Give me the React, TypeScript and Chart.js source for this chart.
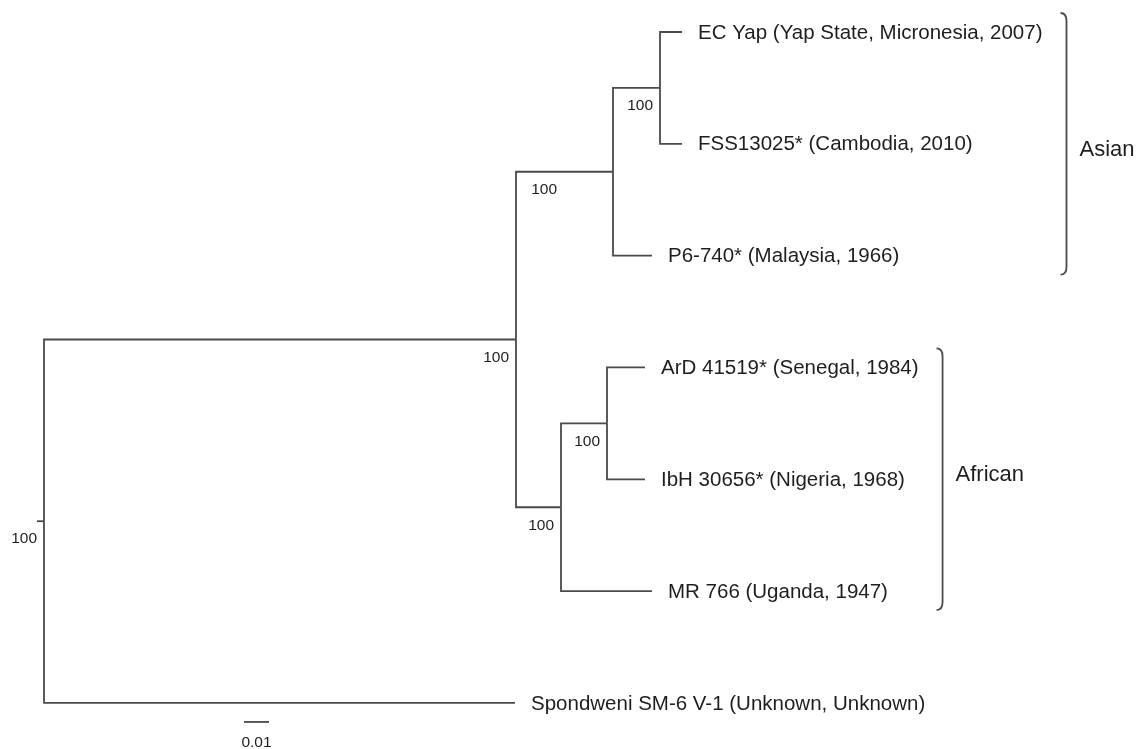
import React, { useEffect, useRef } from "react";
import { Chart, registerables } from "chart.js";

Chart.register(...registerables);

// ---- Tree data (branch depths in substitutions/site) ----
const leafLabels = [
  "EC Yap (Yap State, Micronesia, 2007)",
  "FSS13025* (Cambodia, 2010)",
  "P6-740* (Malaysia, 1966)",
  "ArD 41519* (Senegal, 1984)",
  "IbH 30656* (Nigeria, 1968)",
  "MR 766 (Uganda, 1947)",
  "Spondweni SM-6 V-1 (Unknown, Unknown)",
];
const leafDepths = [0.2552, 0.2552, 0.2432, 0.2404, 0.2404, 0.2432, 0.1884];
const leafParents = ["asianSub", "asianSub", "asian", "africanSub", "africanSub", "african", "root"];

const nodeIds = ["root", "zika", "asian", "asianSub", "african", "africanSub"];
const nodeDepths = [0, 0.1888, 0.2276, 0.2464, 0.2068, 0.2252];
const nodeParents = [null, "root", "zika", "asian", "zika", "african"];
const nodeSupport = [100, 100, 100, 100, 100, 100];
const rootStem = 0.0028;

const cladeNames = ["Asian", "African"];
const cladeFirstLeaf = [0, 3];
const cladeLastLeaf = [2, 5];

const scaleBarLength = 0.01;
const scaleBarLabel = "0.01";

// ---- derived geometry ----
function buildTree() {
  const nodeY: Record<string, number> = {};
  const childYs: Record<string, number[]> = {};
  nodeIds.forEach((id) => (childYs[id] = []));
  leafParents.forEach((p, i) => childYs[p].push(i));
  const resolve = (id: string): number => {
    if (nodeY[id] !== undefined) return nodeY[id];
    const ys = [...childYs[id]];
    nodeIds.forEach((cid, j) => {
      if (nodeParents[j] === id) ys.push(resolve(cid));
    });
    const y = (Math.min(...ys) + Math.max(...ys)) / 2;
    nodeY[id] = y;
    return y;
  };
  nodeIds.forEach((id) => resolve(id));
  const depthOf = (id: string) => nodeDepths[nodeIds.indexOf(id)];
  const edges: { x: number; y: number }[][] = [];
  leafLabels.forEach((_, i) => {
    const p = leafParents[i];
    edges.push([
      { x: depthOf(p), y: nodeY[p] },
      { x: depthOf(p), y: i },
      { x: leafDepths[i], y: i },
    ]);
  });
  nodeIds.forEach((id, j) => {
    const p = nodeParents[j];
    if (!p) {
      edges.push([
        { x: nodeDepths[j] - rootStem, y: nodeY[id] },
        { x: nodeDepths[j], y: nodeY[id] },
      ]);
      return;
    }
    edges.push([
      { x: depthOf(p), y: nodeY[p] },
      { x: depthOf(p), y: nodeY[id] },
      { x: nodeDepths[j], y: nodeY[id] },
    ]);
  });
  return { nodeY, edges };
}

const LINE = "#4a4a4a";
const TEXT = "#1e1e1e";
const FONT = "'Liberation Sans', Arial, Helvetica, sans-serif";

export default function App() {
  const ref = useRef<HTMLCanvasElement | null>(null);

  useEffect(() => {
    if (!ref.current) return;
    const { nodeY, edges } = buildTree();

    const supportShift: Record<string, number> = { asian: -49 };

    const annot = {
      id: "treeAnnotations",
      afterDatasetsDraw(chart: any) {
        const ctx = chart.ctx as CanvasRenderingContext2D;
        const xs = chart.scales.x;
        const ys = chart.scales.y;
        ctx.save();
        ctx.fillStyle = TEXT;
        // leaf labels
        ctx.font = `20.5px ${FONT}`;
        ctx.textAlign = "left";
        ctx.textBaseline = "middle";
        const leafEnds: number[] = [];
        leafLabels.forEach((lab, i) => {
          const px = xs.getPixelForValue(leafDepths[i]) + 16;
          const py = ys.getPixelForValue(i) + 1;
          ctx.fillText(lab, px, py);
          leafEnds.push(px + ctx.measureText(lab).width);
        });
        // bootstrap support
        ctx.font = `15.5px ${FONT}`;
        ctx.textAlign = "right";
        nodeIds.forEach((id, j) => {
          const px = xs.getPixelForValue(nodeDepths[j]) - 7 + (supportShift[id] || 0);
          const py = ys.getPixelForValue(nodeY[id]) + 18;
          ctx.fillText(String(nodeSupport[j]), px, py);
        });
        // clade brackets
        cladeNames.forEach((name, c) => {
          let maxEnd = 0;
          for (let i = cladeFirstLeaf[c]; i <= cladeLastLeaf[c]; i++) maxEnd = Math.max(maxEnd, leafEnds[i]);
          const bx = maxEnd + 24;
          const top = ys.getPixelForValue(cladeFirstLeaf[c]) - 19;
          const bot = ys.getPixelForValue(cladeLastLeaf[c]) + 19;
          ctx.strokeStyle = LINE;
          ctx.lineWidth = 1.8;
          ctx.beginPath();
          ctx.moveTo(bx - 6, top);
          ctx.quadraticCurveTo(bx, top, bx, top + 8);
          ctx.lineTo(bx, bot - 8);
          ctx.quadraticCurveTo(bx, bot, bx - 6, bot);
          ctx.stroke();
          ctx.font = `22px ${FONT}`;
          ctx.textAlign = "left";
          ctx.fillText(name, bx + 13, (top + bot) / 2 + (c === 0 ? 6 : -4));
        });
        // scale bar
        const sx0 = xs.getPixelForValue(0.08);
        const sx1 = xs.getPixelForValue(0.08 + scaleBarLength);
        const sy = ys.getPixelForValue(6.17);
        ctx.strokeStyle = LINE;
        ctx.lineWidth = 1.8;
        ctx.beginPath();
        ctx.moveTo(sx0, sy);
        ctx.lineTo(sx1, sy);
        ctx.stroke();
        ctx.font = `15.5px ${FONT}`;
        ctx.textAlign = "center";
        ctx.fillText(scaleBarLabel, (sx0 + sx1) / 2, sy + 21);
        ctx.restore();
      },
    };

    const chart = new Chart(ref.current, {
      type: "scatter",
      data: {
        datasets: edges.map((pts) => ({
          data: pts,
          showLine: true,
          borderColor: LINE,
          borderWidth: 1.8,
          pointRadius: 0,
          fill: false,
          tension: 0,
        })),
      },
      options: {
        animation: false,
        responsive: false,
        maintainAspectRatio: false,
        devicePixelRatio: 1,
        layout: { padding: 0 },
        plugins: { legend: { display: false }, tooltip: { enabled: false } },
        scales: {
          x: { type: "linear", display: false, min: -0.0176, max: 0.44 },
          y: { type: "linear", display: false, reverse: true, min: -0.286, max: 6.412 },
        },
      },
      plugins: [annot],
    });
    return () => chart.destroy();
  }, []);

  return (
    <div style={{ position: "absolute", left: 0, top: 0, width: 1144, height: 749, background: "#fff" }}>
      <canvas ref={ref} width={1144} height={749} style={{ width: 1144, height: 749, display: "block" }} />
    </div>
  );
}
